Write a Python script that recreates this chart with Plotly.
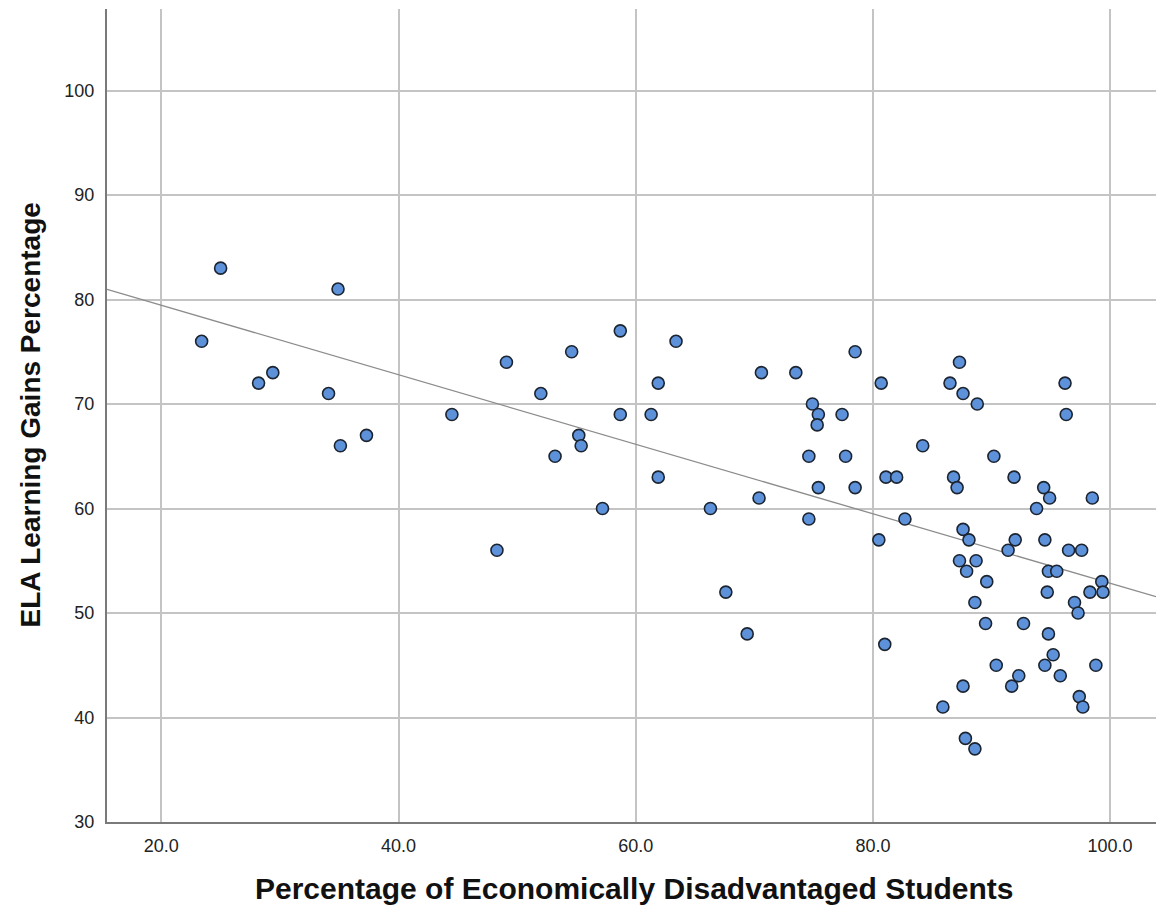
import numpy as np
import plotly.graph_objects as go

# Percentage of economically disadvantaged students per school
pct_disadvantaged = [
    25.0, 23.4, 28.2, 29.4, 34.9, 34.1, 35.1, 37.3, 44.5, 48.3,
    49.1, 54.6, 58.7, 63.4, 52.0, 61.9, 58.7, 61.3, 55.2, 55.4,
    53.2, 61.9, 57.2, 66.3, 70.6, 73.5, 78.5, 74.9, 75.4, 75.3,
    77.4, 74.6, 77.7, 75.4, 78.5, 70.4, 74.6, 67.6, 69.4,
    80.7, 81.1, 82.0, 80.5, 81.0, 87.3, 86.5, 87.6, 88.8, 96.2,
    96.3, 84.2, 90.2, 86.8, 87.1, 91.9, 94.4, 94.9, 98.5, 93.8,
    82.7, 87.6, 88.1, 92.0, 94.5, 91.4, 96.5, 97.6, 87.3, 88.7,
    87.9, 94.8, 95.5, 89.6, 99.3, 94.7, 98.3, 99.4, 88.6, 97.0,
    97.3, 89.5, 92.7, 94.8, 95.2, 90.4, 94.5, 98.8, 92.3, 95.8,
    91.7, 87.6, 97.4, 97.7, 85.9, 87.8, 88.6,
]

# ELA learning gains percentage per school
ela_gains = [
    83, 76, 72, 73, 81, 71, 66, 67, 69, 56,
    74, 75, 77, 76, 71, 72, 69, 69, 67, 66,
    65, 63, 60, 60, 73, 73, 75, 70, 69, 68,
    69, 65, 65, 62, 62, 61, 59, 52, 48,
    72, 63, 63, 57, 47, 74, 72, 71, 70, 72,
    69, 66, 65, 63, 62, 63, 62, 61, 61, 60,
    59, 58, 57, 57, 57, 56, 56, 56, 55, 55,
    54, 54, 54, 53, 53, 52, 52, 52, 51, 51,
    50, 49, 49, 48, 46, 45, 45, 45, 44, 44,
    43, 43, 42, 41, 41, 38, 37,
]

x_ticks = [20, 40, 60, 80, 100]
x_tick_labels = ["20.0", "40.0", "60.0", "80.0", "100.0"]
y_ticks = [30, 40, 50, 60, 70, 80, 90, 100]

x_range = [15.42, 103.87]
y_range = [30, 107.8]

# Linear least-squares fit line across the full x range
slope, intercept = np.polyfit(pct_disadvantaged, ela_gains, 1)
fit_x = np.array(x_range)
fit_y = intercept + slope * fit_x

fig = go.Figure()

fig.add_trace(go.Scatter(
    x=fit_x, y=fit_y, mode="lines",
    line=dict(color="#8c8c8c", width=1.3),
    hoverinfo="skip", showlegend=False,
))

fig.add_trace(go.Scatter(
    x=pct_disadvantaged, y=ela_gains, mode="markers",
    marker=dict(size=12, color="#5d92da",
                line=dict(color="#1c2430", width=1.6)),
    showlegend=False,
))

fig.update_layout(
    width=1156, height=913,
    margin=dict(l=107, r=0, t=9, b=91),
    paper_bgcolor="white", plot_bgcolor="white",
    font=dict(family="Liberation Sans, Arial, sans-serif", color="#222222"),
    xaxis=dict(
        range=x_range, tickvals=x_ticks, ticktext=x_tick_labels,
        showgrid=True, gridcolor="#c4c4c4", gridwidth=1.6,
        zeroline=False, showline=True, linecolor="#7a7a7a", linewidth=2,
        ticks="", tickfont=dict(size=18, color="#222222"),
        ticklabelstandoff=6,
    ),
    yaxis=dict(
        range=y_range, tickvals=y_ticks,
        showgrid=True, gridcolor="#c4c4c4", gridwidth=1.6,
        zeroline=False, showline=True, linecolor="#7a7a7a", linewidth=2,
        ticks="", tickfont=dict(size=18, color="#222222"),
        ticklabelstandoff=7,
    ),
    annotations=[
        dict(text="<b>Percentage of Economically Disadvantaged Students</b>",
             xref="paper", yref="paper", x=0.5, y=0,
             xanchor="center", yanchor="middle", yshift=-66, xshift=3,
             showarrow=False,
             font=dict(size=30, color="#111111",
                       family="Liberation Sans, Arial, sans-serif")),
        dict(text="<b>ELA Learning Gains Percentage</b>",
             xref="paper", yref="paper", x=0, y=0.5,
             xanchor="center", yanchor="middle", xshift=-77,
             textangle=-90, showarrow=False,
             font=dict(size=28, color="#111111",
                       family="Liberation Sans, Arial, sans-serif")),
    ],
)

fig.write_html("out.html")
